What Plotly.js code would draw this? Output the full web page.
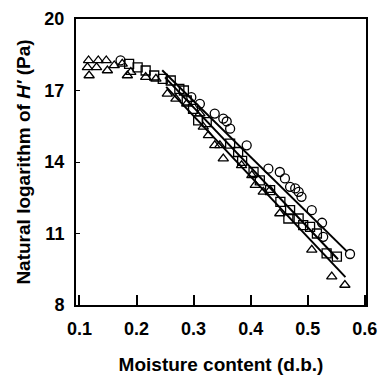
<!DOCTYPE html>
<html>
<head>
<meta charset="utf-8">
<script src="https://cdn.plot.ly/plotly-3.0.1.min.js"></script>
<style>html,body{margin:0;padding:0;background:#fff;}#chart{width:381px;height:384px;}</style>
</head>
<body>
<div id="chart"></div>
<script>
// Circles series
const circleX = [0.172, 0.296, 0.311, 0.337, 0.352, 0.358, 0.364, 0.393, 0.431, 0.451, 0.460, 0.469, 0.478, 0.484, 0.489, 0.507, 0.525, 0.527, 0.574];
const circleY = [18.26, 16.72, 16.44, 16.03, 15.82, 15.70, 15.40, 14.70, 13.72, 13.58, 13.31, 12.96, 12.89, 12.75, 12.54, 11.98, 11.45, 10.86, 10.14];
// Squares series
const squareX = [0.187, 0.202, 0.216, 0.231, 0.246, 0.260, 0.275, 0.283, 0.288, 0.299, 0.308, 0.323, 0.364, 0.378, 0.385, 0.405, 0.416, 0.434, 0.452, 0.469, 0.466, 0.484, 0.492, 0.504, 0.516, 0.533, 0.551];
const squareY = [18.12, 17.97, 17.84, 17.63, 17.49, 17.42, 17.07, 17.00, 16.58, 16.23, 15.75, 15.67, 14.77, 14.42, 14.05, 13.58, 13.23, 12.82, 12.33, 11.98, 11.63, 11.63, 11.35, 11.28, 11.00, 10.17, 10.03];
// Triangles series
const triX = [0.116, 0.114, 0.117, 0.133, 0.130, 0.147, 0.149, 0.161, 0.175, 0.184, 0.190, 0.216, 0.234, 0.254, 0.269, 0.288, 0.311, 0.317, 0.326, 0.337, 0.346, 0.352, 0.384, 0.402, 0.408, 0.422, 0.434, 0.451, 0.507, 0.542, 0.565];
const triY = [18.26, 17.97, 17.63, 18.26, 17.97, 18.26, 17.84, 18.05, 18.12, 17.63, 17.77, 17.56, 17.49, 16.86, 16.65, 16.44, 16.03, 15.47, 15.12, 14.70, 14.70, 14.14, 13.86, 13.44, 13.03, 12.75, 12.82, 11.84, 10.31, 9.19, 8.84];
// Fitted lines (start/end)
const fitCircleX = [0.245, 0.569];
const fitCircleY = [17.85, 10.24];
const fitSquareX = [0.250, 0.553];
const fitSquareY = [17.55, 9.92];
const fitTriX = [0.252, 0.566];
const fitTriY = [17.15, 9.17];
// Tick labels
const xTicks = [0.1, 0.2, 0.3, 0.4, 0.5, 0.6];
const yTicks = [8, 11, 14, 17, 20];

const mk = (sym) => ({symbol: sym, size: 9, color: '#000', line: {color: '#000', width: 1.3}});
const traces = [
  {x: fitCircleX, y: fitCircleY, mode: 'lines', line: {color: '#000', width: 2}, hoverinfo: 'skip'},
  {x: fitSquareX, y: fitSquareY, mode: 'lines', line: {color: '#000', width: 2}, hoverinfo: 'skip'},
  {x: fitTriX, y: fitTriY, mode: 'lines', line: {color: '#000', width: 2}, hoverinfo: 'skip'},
  {x: circleX, y: circleY, mode: 'markers', marker: mk('circle-open')},
  {x: squareX, y: squareY, mode: 'markers', marker: mk('square-open')},
  {x: triX, y: triY, mode: 'markers', marker: mk('triangle-up-open')}
];
const fam = 'Liberation Sans, Arial, sans-serif';
const tf = {family: fam, size: 18, weight: 700, color: '#000'};
const layout = {
  width: 381, height: 384,
  margin: {l: 76, r: 15, t: 19, b: 79},
  showlegend: false,
  paper_bgcolor: '#fff', plot_bgcolor: '#fff',
  font: {family: fam, color: '#000', size: 16},
  xaxis: {
    range: [0.094, 0.602], tickvals: xTicks, ticktext: xTicks.map(v => v.toFixed(1)),
    ticks: 'inside', ticklen: 10, tickwidth: 2, tickcolor: '#000',
    showline: true, linecolor: '#000', linewidth: 2, mirror: true,
    showgrid: false, zeroline: false,
    tickfont: tf, ticklabelstandoff: 6,
    title: {text: '<b>Moisture content (d.b.)</b>', font: {family: fam, size: 19, color: '#000'}, standoff: 20}
  },
  yaxis: {
    range: [8, 20], tickvals: yTicks,
    ticks: 'inside', ticklen: 4, tickwidth: 1, tickcolor: '#000',
    showline: true, linecolor: '#000', linewidth: 2, mirror: true,
    showgrid: false, zeroline: false,
    tickfont: tf, ticklabelstandoff: 6,
    title: {text: "<b>Natural logarithm of <i>H'</i> (Pa)</b>", font: {family: fam, size: 19, color: '#000'}, standoff: 9}
  }
};
Plotly.newPlot('chart', traces, layout, {displayModeBar: false, staticPlot: true});
</script>
</body>
</html>
